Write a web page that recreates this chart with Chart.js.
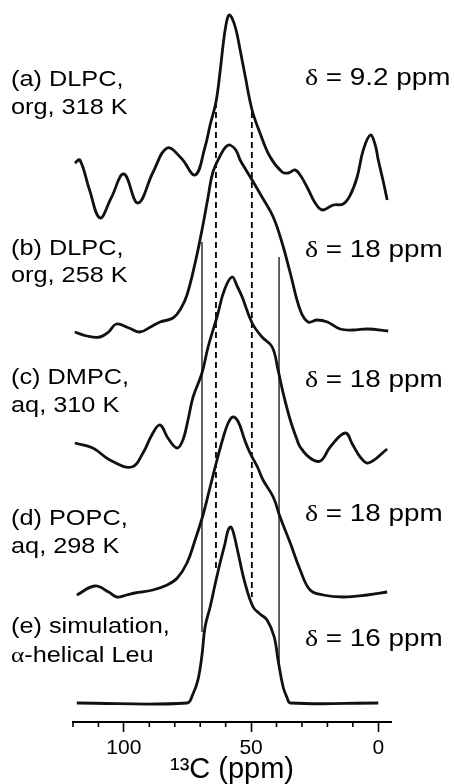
<!DOCTYPE html>
<html>
<head>
<meta charset="utf-8">
<script src="https://cdn.jsdelivr.net/npm/chart.js@4.4.1/dist/chart.umd.min.js"></script>
<style>
html, body { margin: 0; padding: 0; background: #fff; }
#wrap { width: 454px; height: 784px; }
</style>
</head>
<body>
<div id="wrap"><canvas id="nmr" width="454" height="784"></canvas></div>
<script>
// 13C chemical shift (ppm) and stacked intensity of each spectrum
var shiftA = [119.3, 117.3, 113.5, 109.4, 105, 100, 94.5, 88.5, 83, 77.5,
	72, 68.1, 66.1, 63.8, 62.2, 61, 59.8, 58.7, 57.5, 55.9,
	54.3, 52.4, 49.6, 46.5, 42.5, 37.8, 35.4, 32.7, 30.7, 28,
	24.8, 22, 17.7, 13.8, 11, 8.3, 5.9, 3.1, 1.2, 0, -2, -3.5];
var intA = [55.9, 56.2, 53.2, 50.4, 52.4, 54.8, 51.9, 55.0, 57.4, 56.4,
	54.7, 57.5, 59.7, 62.0, 65.0, 67.7, 69.8, 70.7, 70.4, 69.2,
	67.2, 64.7, 61.2, 58.9, 56.5, 55.0, 54.9, 55.2, 54.7, 53.5,
	51.9, 51.2, 51.7, 51.8, 52.7, 54.5, 57.2, 58.7, 57.7, 56.2, 54.0, 52.2];

var shiftB = [119.3, 114.5, 109.4, 106, 103, 98, 93.7, 89.5, 85.8, 80.7,
	77.5, 75.2, 72, 69.3, 66.9, 65, 62, 60, 58.3, 56,
	54.3, 52, 49.6, 45.7, 41.3, 37.8, 34.6, 30.7, 27.6, 24,
	20, 15, 9.8, 4.3, -3.9];
var intB = [39.0, 38.6, 38.5, 39.0, 39.8, 39.4, 39.0, 39.5, 40.0, 40.4,
	41.4, 42.7, 45.9, 49.2, 52.5, 55.0, 56.7, 57.5, 57.7, 57.2,
	56.2, 55.2, 54.2, 52.5, 50.5, 47.9, 44.9, 41.2, 40.0, 40.2,
	40.0, 39.3, 39.2, 39.3, 39.1];

var shiftC = [119.3, 112.2, 105.5, 96.9, 92.5, 89, 85.8, 82.7, 79.1, 76.8,
	74.8, 72.8, 69.3, 66.9, 63.4, 60.5, 57.5, 55.5, 53.5, 49.6,
	45.7, 41.7, 39.4, 37.4, 34.6, 31.9, 30.7, 26.8, 22.8, 18.9,
	13, 10, 7.1, 3.9, -3.5];
var intC = [27.9, 27.4, 26.2, 25.5, 26.9, 28.7, 29.7, 28.4, 27.4, 28.2,
	30.2, 32.5, 34.9, 37.5, 40.5, 43.2, 44.5, 43.6, 42.5, 39.9,
	38.5, 37.5, 35.2, 32.9, 30.2, 28.2, 27.5, 26.4, 26.1, 27.5,
	28.9, 27.7, 26.5, 25.9, 27.3];

var shiftD = [118.5, 111.4, 106, 102.8, 99, 95.7, 88.6, 83, 79, 75.2,
	72, 68.9, 66.1, 63.4, 61, 59, 57.1, 55, 52.5, 50.4,
	47.5, 45.3, 41.3, 38.6, 34.6, 30.7, 26.8, 21.7, 13.8, 4.3, -3.5];
var intD = [12.7, 13.6, 13.0, 12.5, 12.7, 12.9, 13.2, 13.7, 14.4, 15.9,
	18.2, 20.7, 23.5, 26.2, 28.4, 29.9, 30.5, 30.0, 28.2, 26.9,
	25.5, 24.2, 22.5, 20.5, 17.9, 15.2, 13.2, 12.7, 12.5, 12.7, 13.0];

var shiftE = [118.5, 75.2, 73, 70.9, 69.3, 68.1, 66.1, 64.2, 62.2, 60.2,
	59, 57.9, 56.7, 55.1, 52.4, 49.2, 46.5, 43.7, 40.9, 39.4,
	37.4, 35.8, 34.6, 0];
var intE = [1.9, 1.9, 2.7, 4.2, 6.7, 9.5, 11.5, 13.7, 15.9, 17.9,
	19.2, 19.5, 18.7, 16.9, 13.9, 11.5, 10.8, 10.2, 8.5, 6.2,
	3.5, 2.4, 1.9, 1.9];

// vertical guide lines: shift, top and bottom intensity, dashed or not
var guideShift = [69.3, 39, 63.8, 49.7];
var guideTop = [48.0, 46.5, 62.0, 61.0];
var guideBottom = [9.0, 5.8, 15.0, 12.5];
var guideDashed = [false, false, true, true];

var sampleLines = [
	['(a) DLPC,', 'org, 318 K'],
	['(b) DLPC,', 'org, 258 K'],
	['(c) DMPC,', 'aq, 310 K'],
	['(d) POPC,', 'aq, 298 K'],
	['(e) simulation,', '\u03b1-helical Leu']
];
var anisotropy = ['9.2', '18', '18', '18', '16'];
var axisTicks = [120, 110, 100, 90, 80, 70, 60, 50, 40, 30, 20, 10, 0];
var majorTicks = [100, 50, 0];

var sansFont = '"Liberation Sans", Arial, Helvetica, sans-serif';
var serifFont = '"Liberation Serif", "Times New Roman", serif';

function toPoints(xs, ys) {
	return xs.map(function (x, i) {
		return { x: x, y: ys[i] };
	});
}

var spectra = [[shiftA, intA], [shiftB, intB], [shiftC, intC], [shiftD, intD], [shiftE, intE]];
var datasets = spectra.map(function (s) {
	return {
		data: toPoints(s[0], s[1]),
		borderColor: '#111',
		borderWidth: 2.8,
		pointRadius: 0,
		tension: 0.4,
		fill: false
	};
});

guideShift.forEach(function (x, i) {
	datasets.push({
		data: [{ x: x, y: guideTop[i] }, { x: x, y: guideBottom[i] }],
		borderColor: guideDashed[i] ? '#000' : '#222',
		borderWidth: guideDashed[i] ? 1.8 : 1.4,
		borderDash: guideDashed[i] ? [6, 4] : [],
		pointRadius: 0,
		tension: 0,
		fill: false
	});
});

// draws a string where greek letters use a serif face, stretched a little in x
function drawMixed(ctx, text, x, y, size, stretch) {
	ctx.save();
	ctx.translate(x, y);
	ctx.scale(stretch, 1);
	var cx = 0;
	for (var i = 0; i < text.length; i++) {
		var ch = text[i];
		var greek = ch === '\u03b4' || ch === '\u03b1';
		ctx.font = size + 'px ' + (greek ? serifFont : sansFont);
		ctx.fillText(ch, cx, 0);
		cx += ctx.measureText(ch).width;
	}
	ctx.restore();
}

var textPlugin = {
	id: 'textPlugin',
	afterDraw: function (chart) {
		var ctx = chart.ctx;
		var xs = chart.scales.x;
		var base = xs.top;

		// short minor ticks every 10 ppm
		ctx.save();
		ctx.strokeStyle = '#000';
		ctx.lineWidth = 1.6;
		axisTicks.forEach(function (v) {
			if (majorTicks.indexOf(v) >= 0) return;
			var px = xs.getPixelForValue(v);
			ctx.beginPath();
			ctx.moveTo(px, base);
			ctx.lineTo(px, base + 5);
			ctx.stroke();
		});
		ctx.restore();

		ctx.save();
		ctx.fillStyle = '#000';
		ctx.textBaseline = 'alphabetic';
		var leftBase = [[86, 114], [255, 282], [384, 412], [525, 553], [633, 662]];
		sampleLines.forEach(function (lines, i) {
			drawMixed(ctx, lines[0], 11, leftBase[i][0], 22, 1.15);
			drawMixed(ctx, lines[1], 11, leftBase[i][1], 22, 1.15);
		});
		var deltaBase = [85, 257, 387, 521, 646];
		anisotropy.forEach(function (v, i) {
			drawMixed(ctx, '\u03b4 = ' + v + ' ppm', 305, deltaBase[i], 24, 1.16);
		});
		ctx.restore();
	}
};

var chart = new Chart(document.getElementById('nmr'), {
	type: 'line',
	data: { datasets: datasets },
	plugins: [textPlugin],
	options: {
		responsive: false,
		animation: false,
		events: [],
		layout: { padding: { left: 73, right: 63, top: 0, bottom: 0 } },
		plugins: { legend: { display: false }, tooltip: { enabled: false } },
		scales: {
			x: {
				type: 'linear',
				reverse: true,
				min: -5,
				max: 120,
				afterBuildTicks: function (scale) {
					scale.ticks = majorTicks.map(function (v) {
						return { value: v };
					});
				},
				afterFit: function (scale) {
					scale.height = 62;
				},
				border: { display: true, color: '#000', width: 2 },
				grid: {
					drawOnChartArea: false,
					drawTicks: true,
					tickLength: 10,
					tickWidth: 1.6,
					tickColor: '#000'
				},
				ticks: {
					autoSkip: false,
					maxRotation: 0,
					padding: 6,
					color: '#000',
					font: { family: sansFont, size: 21, lineHeight: 1 },
					callback: function (v) {
						return String(v);
					}
				},
				title: {
					display: true,
					text: '\u00b9\u00b3C (ppm)',
					color: '#000',
					font: { family: sansFont, size: 29, lineHeight: 1 },
					padding: { top: 0, bottom: 0 }
				}
			},
			y: {
				display: false,
				min: 0,
				max: 72.2
			}
		}
	}
});
</script>
</body>
</html>
